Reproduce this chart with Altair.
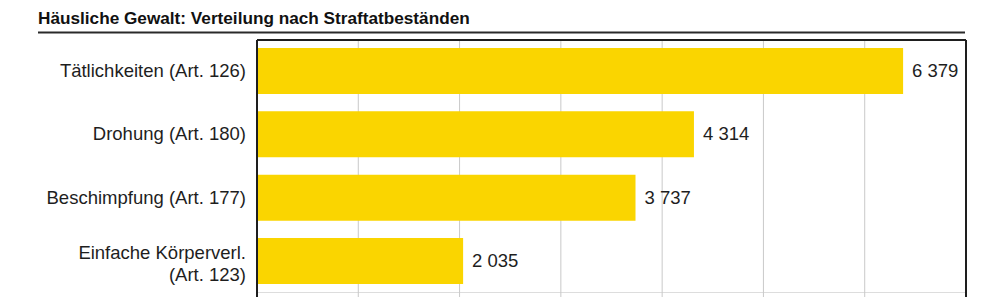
import altair as alt
import pandas as pd

# ---- data ----
categories = [
    "Tätlichkeiten (Art. 126)",
    "Drohung (Art. 180)",
    "Beschimpfung (Art. 177)",
    "Einfache Körperverl.\n(Art. 123)",
]
values = [6379, 4314, 3737, 2035]
grid_ticks = [1000, 2000, 3000, 4000, 5000, 6000]
x_max = 7000
title_text = "Häusliche Gewalt: Verteilung nach Straftatbeständen"

df = pd.DataFrame({
    "cat": categories,
    "value": values,
    "label": [f"{v:,}".replace(",", " ") for v in values],
    "lines": [c.count("\n") + 1 for c in categories],
})
grid_df = pd.DataFrame({"tick": grid_ticks})
one = pd.DataFrame({"k": [0]})

W, H = 709, 252
FONT = "Liberation Sans"
BAR = "#FAD500"
INK = "#1e1e1e"
LH = 22

xscale = alt.Scale(domain=[0, x_max], nice=False, zero=True)
yscale = alt.Scale(domain=categories, paddingInner=0.274, paddingOuter=0.126)

grid = alt.Chart(grid_df).mark_rule(color="#c9c9c9", strokeWidth=1).encode(
    x=alt.X("tick:Q", scale=xscale, axis=None),
    y=alt.value(0),
    y2=alt.value(257),
)

bars = alt.Chart(df).mark_bar(color=BAR).encode(
    x=alt.X("value:Q", scale=xscale, axis=None),
    y=alt.Y("cat:N", scale=yscale, axis=None, sort=categories),
)

value_labels = alt.Chart(df).mark_text(
    align="left", baseline="middle", dx=9, fontSize=18.5, font=FONT, color=INK
).encode(
    x=alt.X("value:Q", scale=xscale, axis=None),
    y=alt.Y("cat:N", scale=yscale, axis=None, sort=categories),
    text="label:N",
)

single = alt.Chart(df).transform_filter("datum.lines == 1").mark_text(
    align="right", baseline="middle", fontSize=18.5, font=FONT, color=INK,
).encode(
    x=alt.value(-11),
    y=alt.Y("cat:N", scale=yscale, axis=None, sort=categories),
    text="cat:N",
)

multi = alt.Chart(df).transform_filter("datum.lines > 1").mark_text(
    align="right", baseline="middle", fontSize=18.5, font=FONT, color=INK,
    lineBreak="\n", lineHeight=LH, dy=-8,
).encode(
    x=alt.value(-11),
    y=alt.Y("cat:N", scale=yscale, axis=None, sort=categories),
    text="cat:N",
)

frame_left = alt.Chart(one).mark_rule(color=INK, strokeWidth=2).encode(
    x=alt.value(0), y=alt.value(0), y2=alt.value(257)
)
frame_right = alt.Chart(one).mark_rule(color=INK, strokeWidth=2).encode(
    x=alt.value(W), y=alt.value(0), y2=alt.value(257)
)
frame_top = alt.Chart(one).mark_rule(color=INK, strokeWidth=2).encode(
    x=alt.value(0), x2=alt.value(W), y=alt.value(0)
)
title_rule = alt.Chart(one).mark_rule(color="#2a2a2a", strokeWidth=2.2).encode(
    x=alt.value(-219), x2=alt.value(W - 1), y=alt.value(-7.5)
)

chart = alt.layer(
    grid, bars, value_labels, single, multi, frame_left, frame_right, frame_top, title_rule
).properties(
    width=W,
    height=H,
    title=alt.TitleParams(
        title_text, anchor="start", frame="group", dx=-219, offset=4,
        fontSize=17.2, fontWeight="bold", font=FONT, color="#111111",
    ),
    padding={"left": 257, "top": 40, "right": 28, "bottom": 5},
    autosize=alt.AutoSizeParams(type="none"),
).configure_view(stroke=None).configure(background="white")

chart.save("out.html", embed_options={"renderer": "svg", "actions": False})
